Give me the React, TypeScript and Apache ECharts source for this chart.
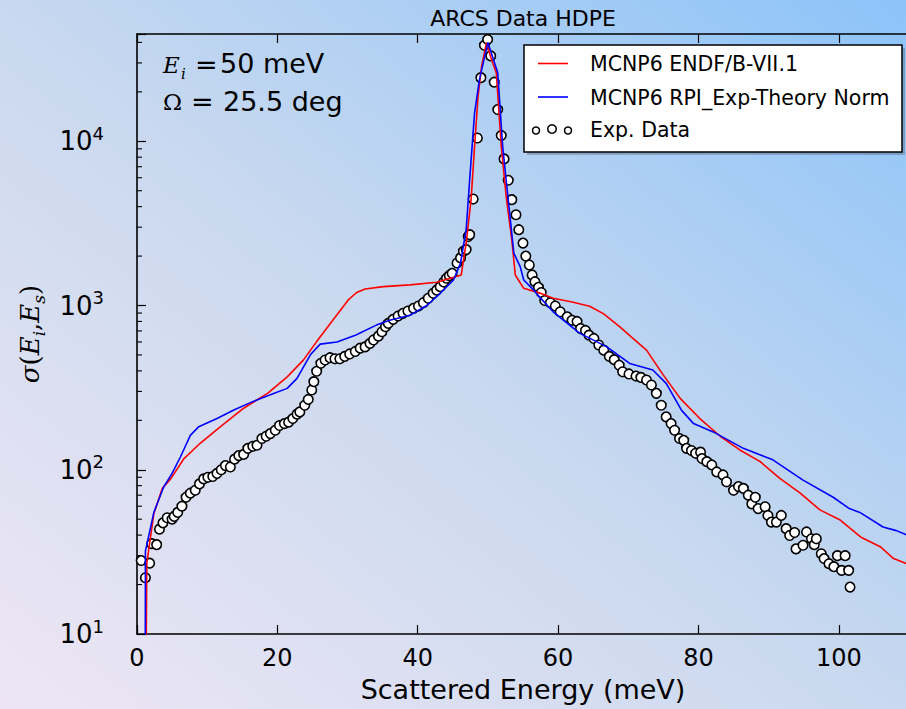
import React, { useEffect, useRef } from "react";
import * as echarts from "echarts";

// MCNP6 ENDF/B-VII.1 (red)
const endfE = [1.15, 1.4, 2.4, 3.6, 4.8, 6.7, 9.0, 11.9, 15.2, 18.6, 21.4, 23.7, 25.6, 27.9, 30.1, 31.3, 32.5, 35.1, 38.9, 42.7, 45.5, 46.2, 46.9, 47.6, 48.1, 48.6, 49.1, 49.8, 50.5, 51.2, 51.9, 52.6, 53.4, 53.9, 55.1, 57.4, 59.3, 62.0, 64.5, 66.5, 68.8, 70.5, 72.6, 75.0, 77.4, 80.2, 83.1, 85.9, 88.8, 91.6, 94.5, 97.3, 100.2, 103.1, 105.9, 107.8, 110];
const endfSigma = [1, 27, 54, 77, 88, 117, 145, 183, 237, 292, 368, 465, 603, 813, 1081, 1200, 1260, 1304, 1335, 1385, 1500, 1535, 2400, 4400, 9330, 18800, 28600, 39800, 31600, 26100, 9330, 4620, 2520, 1535, 1273, 1190, 1107, 1050, 990, 890, 742, 640, 535, 377, 272, 205, 160, 132, 112, 88.5, 72, 57, 49.4, 39, 34, 28.8, 26.5];

// MCNP6 RPI_Exp-Theory Norm (blue)
const rpiE = [1.15, 1.2, 2.4, 3.8, 5.0, 6.2, 7.6, 8.8, 11.4, 13.8, 16.4, 19.0, 21.4, 22.8, 24.7, 26.1, 28.5, 31.2, 34.1, 36.0, 38.9, 41.3, 43.2, 45.1, 46.1, 46.5, 46.9, 47.4, 48.1, 48.8, 50.0, 51.4, 52.1, 53.0, 53.7, 54.6, 55.1, 56.5, 57.3, 59.3, 63.1, 66.9, 70.2, 73.5, 75.4, 77.6, 79.3, 82.1, 86.4, 90.6, 94.9, 99.2, 101.5, 103.0, 106.3, 108.2, 110];
const rpiSigma = [1, 32, 55, 78.5, 95, 120, 162, 183, 205, 231, 259, 286, 313, 360, 501, 582, 600, 662, 760, 813, 873, 1000, 1187, 1430, 1815, 2290, 2890, 5820, 14900, 23800, 40000, 26100, 9330, 4000, 2080, 1726, 1430, 1245, 1133, 916, 677, 562, 444, 405, 336, 230, 191, 170, 135, 115, 86.5, 68, 58, 55, 44.8, 42.6, 39.5];

// Exp. Data (circles)
const expE = [0.6, 1.2, 1.8, 2.1, 2.8, 3.2, 3.7, 4.3, 5.0, 5.3, 5.8, 6.4, 7.0, 7.6, 8.3, 8.9, 9.5, 10.1, 10.8, 11.4, 12.0, 12.6, 13.3, 13.9, 14.5, 15.2, 15.8, 16.5, 17.1, 17.8, 18.4, 19.0, 19.7, 20.3, 21.0, 21.6, 22.2, 22.8, 23.2, 23.9, 24.4, 24.9, 25.2, 25.6, 26.2, 26.8, 27.5, 28.2, 28.9, 29.6, 30.3, 31.1, 31.8, 32.5, 33.2, 33.7, 34.4, 34.9, 35.4, 35.8, 36.5, 37.2, 37.9, 38.6, 39.4, 40.1, 40.8, 41.5, 42.2, 42.7, 43.2, 43.7, 44.1, 44.5, 44.9, 45.6, 46.1, 46.5, 46.9, 47.2, 47.4, 47.9, 48.5, 49.0, 49.5, 49.96, 50.4, 50.9, 51.4, 51.9, 52.3, 52.9, 53.4, 54.0, 54.4, 55.0, 55.4, 55.9, 56.3, 56.7, 57.2, 57.6, 58.1, 58.9, 59.6, 60.3, 61.3, 62.0, 62.7, 63.2, 63.9, 64.4, 65.1, 65.8, 66.5, 67.3, 68.0, 68.7, 69.2, 70.1, 71.1, 71.8, 72.6, 73.3, 74.0, 74.7, 75.4, 76.1, 76.6, 77.3, 77.9, 78.3, 79.0, 79.6, 80.3, 80.5, 81.2, 81.9, 82.6, 83.5, 84.0, 85.0, 85.7, 86.4, 87.1, 87.6, 88.1, 88.5, 89.5, 89.9, 90.4, 91.1, 91.8, 92.5, 93.0, 93.7, 93.9, 94.9, 95.4, 96.1, 96.5, 96.8, 97.5, 97.9, 98.6, 99.3, 99.8, 100.4, 100.9, 101.4, 101.6];
const expSigma = [28, 22, 27, 35.5, 35, 43.5, 47.5, 51, 50, 52, 55, 60, 68, 72, 75, 82, 88, 90, 91, 95, 100, 106, 104, 116, 122, 124, 135, 139, 141, 155, 160, 166, 174, 186, 191, 195, 205, 218, 225, 247, 268, 306, 344, 398, 445, 466, 481, 474, 474, 490, 507, 525, 550, 560, 588, 617, 651, 692, 742, 778, 824, 863, 896, 926, 961, 993, 1040, 1107, 1187, 1240, 1303, 1390, 1466, 1520, 1571, 1815, 1950, 2140, 2190, 2630, 2700, 4450, 10470, 24400, 38400, 41700, 33100, 22900, 15600, 10850, 7810, 5790, 4410, 3570, 2895, 2400, 2000, 1766, 1535, 1396, 1290, 1200, 1073, 1040, 993, 916, 853, 813, 800, 725, 705, 660, 630, 575, 535, 490, 468, 433, 395, 383, 372, 365, 352, 328, 292, 247, 210, 191, 174, 155, 151, 135, 131, 126, 128, 117, 112, 107, 97, 93, 84.5, 75, 79, 77, 70, 62, 68, 58, 59.5, 52.7, 48, 48, 52.7, 43.8, 39.8, 41.5, 33, 34.7, 41.8, 38, 35, 38, 30.8, 28.8, 26.8, 25.7, 30, 24.4, 30, 24.4, 19.3];

const seriesNames = ["MCNP6 ENDF/B-VII.1", "MCNP6 RPI_Exp-Theory Norm", "Exp. Data"];
const decades = [10, 100, 1000, 10000];
const minorSteps = [2, 3, 4, 5, 6, 7, 8, 9];
const xMin = 0, xMax = 110, xStep = 20;
const yMin = 10, yMax = 45000;

const SANS = "'DejaVu Sans', sans-serif";
const SERIF = "'DejaVu Serif', serif";

const zip = (a: number[], b: number[]) => a.map((v, i) => [v, b[i]]);

export default function App() {
  const ref = useRef<HTMLDivElement>(null);
  useEffect(() => {
    document.body.style.margin = "0";
    const chart = echarts.init(ref.current!, null, { renderer: "svg" });
    const minorTicks: number[][] = [];
    decades.forEach((d) => minorSteps.forEach((m) => { if (m * d < yMax) minorTicks.push([0, m * d]); }));

    const xAxisBase = {
      type: "value", min: xMin, max: xMax, interval: xStep,
      axisLine: { show: true, onZero: false, lineStyle: { color: "#000", width: 1.6 } },
      axisTick: { show: true, inside: true, length: 9, lineStyle: { color: "#000", width: 1.2 } },
      splitLine: { show: false },
    };

    const option: any = {
      animation: false,
      backgroundColor: "transparent",
      grid: { left: 137, top: 34, width: 772, height: 600, containLabel: false },
      xAxis: [
        {
          ...xAxisBase, position: "bottom",
          axisLabel: {
            color: "#000", fontFamily: SANS, fontSize: 24, margin: 12,
            formatter: (v: number) => (v % xStep === 0 ? String(v) : ""),
          },
          name: "Scattered Energy (meV)", nameLocation: "middle", nameGap: 42,
          nameTextStyle: { color: "#000", fontFamily: SANS, fontSize: 27 },
        },
        { ...xAxisBase, position: "top", axisLabel: { show: false } },
      ],
      yAxis: {
        type: "log", logBase: 10, min: yMin, max: yMax,
        axisLine: { show: true, lineStyle: { color: "#000", width: 1.6 } },
        axisTick: { show: true, inside: true, length: 9, lineStyle: { color: "#000", width: 1.2 } },
        splitLine: { show: false },
        axisLabel: {
          margin: 33,
          formatter: (v: number) => {
            const e = Math.log10(v);
            if (Math.abs(e - Math.round(e)) > 1e-6) return "";
            return `{b|10}{s|${Math.round(e)}}`;
          },
          rich: {
            b: { fontFamily: SANS, fontSize: 26, color: "#000", lineHeight: 34, verticalAlign: "middle" },
            s: { fontFamily: SANS, fontSize: 18, color: "#000", lineHeight: 20, verticalAlign: "top" },
          },
        },
        name: "{g|σ}{p|(}{e|E}{u|i}{p|,}{e|E}{u|s}{p|)}",
        nameLocation: "middle", nameRotate: 90, nameGap: 90,
        nameTextStyle: {
          rich: {
            g: { fontFamily: SERIF, fontStyle: "italic", fontSize: 26, color: "#000", lineHeight: 34, verticalAlign: "middle" },
            p: { fontFamily: SERIF, fontSize: 26, color: "#000", lineHeight: 34, verticalAlign: "middle" },
            e: { fontFamily: SERIF, fontStyle: "italic", fontSize: 26, color: "#000", lineHeight: 34, verticalAlign: "middle" },
            u: { fontFamily: SERIF, fontStyle: "italic", fontSize: 17, color: "#000", lineHeight: 18, verticalAlign: "bottom" },
          },
        },
      },
      series: [
        {
          type: "custom", silent: true, clip: false, data: minorTicks, encode: { x: 0, y: 1 },
          renderItem: (_p: any, api: any) => {
            const pt = api.coord([0, api.value(1)]);
            return { type: "line", shape: { x1: pt[0], y1: pt[1], x2: pt[0] + 5, y2: pt[1] }, style: { stroke: "#000", lineWidth: 1.1 } };
          },
        },
        {
          name: seriesNames[0], type: "line", data: zip(endfE, endfSigma), showSymbol: false, clip: true,
          lineStyle: { color: "#ff0000", width: 1.6 }, itemStyle: { color: "#ff0000" },
        },
        {
          name: seriesNames[1], type: "line", data: zip(rpiE, rpiSigma), showSymbol: false, clip: true,
          lineStyle: { color: "#0000ff", width: 1.6 }, itemStyle: { color: "#0000ff" },
        },
        {
          name: seriesNames[2], type: "scatter", data: zip(expE, expSigma), symbol: "circle", symbolSize: 9.5,
          itemStyle: { color: "#ffffff", borderColor: "#000000", borderWidth: 1.6, opacity: 1 },
        },
      ],
      graphic: [
        { type: "text", x: 523, y: 18, z: 100, style: { text: "ARCS Data HDPE", fontFamily: SANS, fontSize: 22, fill: "#000", textAlign: "center", verticalAlign: "middle" } },
        // annotation
        { type: "text", x: 163, y: 65, z: 100, style: { text: "E", fontFamily: SERIF, fontStyle: "italic", fontSize: 23, fill: "#000", textAlign: "left", verticalAlign: "middle" } },
        { type: "text", x: 181, y: 74, z: 100, style: { text: "i", fontFamily: SERIF, fontStyle: "italic", fontSize: 15, fill: "#000", textAlign: "left", verticalAlign: "middle" } },
        { type: "text", x: 195, y: 64, z: 100, style: { text: "=", fontFamily: SANS, fontSize: 27, fill: "#000", textAlign: "left", verticalAlign: "middle" } },
        { type: "text", x: 220, y: 63, z: 100, style: { text: "50 meV", fontFamily: SANS, fontSize: 27, fill: "#000", textAlign: "left", verticalAlign: "middle" } },
        { type: "text", x: 163, y: 102, z: 100, style: { text: "Ω", fontFamily: SERIF, fontSize: 23, fill: "#000", textAlign: "left", verticalAlign: "middle" } },
        { type: "text", x: 191, y: 101, z: 100, style: { text: "=", fontFamily: SANS, fontSize: 27, fill: "#000", textAlign: "left", verticalAlign: "middle" } },
        { type: "text", x: 223, y: 101, z: 100, style: { text: "25.5 deg", fontFamily: SANS, fontSize: 27, fill: "#000", textAlign: "left", verticalAlign: "middle" } },
        // legend
        { type: "rect", z: 100, shape: { x: 527, y: 48, width: 378, height: 107 }, style: { fill: "rgba(70,80,100,0.35)" } },
        { type: "rect", z: 101, shape: { x: 524, y: 45, width: 378, height: 107 }, style: { fill: "#ffffff", stroke: "#000", lineWidth: 1.5 } },
        { type: "line", z: 102, shape: { x1: 538, y1: 63.5, x2: 568, y2: 63.5 }, style: { stroke: "#ff0000", lineWidth: 1.6 } },
        { type: "line", z: 102, shape: { x1: 538, y1: 97, x2: 568, y2: 97 }, style: { stroke: "#0000ff", lineWidth: 1.6 } },
        { type: "circle", z: 102, shape: { cx: 536, cy: 130.5, r: 3.5 }, style: { fill: "#fff", stroke: "#000", lineWidth: 1.5 } },
        { type: "circle", z: 102, shape: { cx: 552, cy: 129, r: 4.3 }, style: { fill: "#fff", stroke: "#000", lineWidth: 1.5 } },
        { type: "circle", z: 102, shape: { cx: 568, cy: 130.5, r: 3.5 }, style: { fill: "#fff", stroke: "#000", lineWidth: 1.5 } },
        { type: "text", x: 590, y: 64, z: 102, style: { text: seriesNames[0], fontFamily: SANS, fontSize: 20.5, fill: "#000", textAlign: "left", verticalAlign: "middle" } },
        { type: "text", x: 590, y: 98, z: 102, style: { text: seriesNames[1], fontFamily: SANS, fontSize: 20.5, fill: "#000", textAlign: "left", verticalAlign: "middle" } },
        { type: "text", x: 590, y: 130, z: 102, style: { text: seriesNames[2], fontFamily: SANS, fontSize: 20.5, fill: "#000", textAlign: "left", verticalAlign: "middle" } },
      ],
    };
    chart.setOption(option);
    return () => chart.dispose();
  }, []);
  return (
    <div
      style={{
        position: "fixed", left: 0, top: 0, width: 906, height: 709, overflow: "hidden",
        background: "linear-gradient(to top right, #eee6f5 0%, #cad9ef 48%, #8cc3f9 100%)",
      }}
    >
      <div ref={ref} style={{ position: "absolute", left: 0, top: 0, width: 930, height: 709 }} />
    </div>
  );
}
